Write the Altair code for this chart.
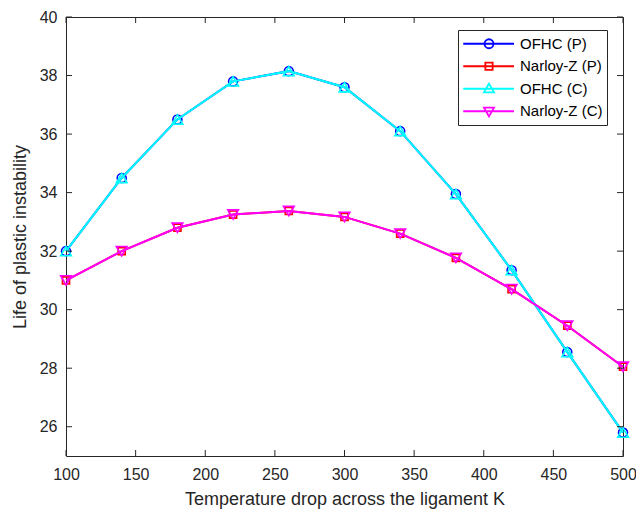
import altair as alt
import pandas as pd

temps = [100, 140, 180, 220, 260, 300, 340, 380, 420, 460, 500]
ofhc_p = [32.0, 34.5, 36.5, 37.8, 38.15, 37.6, 36.1, 33.95, 31.35, 28.55, 25.8]
narloy_p = [31.0, 32.0, 32.8, 33.25, 33.37, 33.17, 32.6, 31.77, 30.7, 29.45, 28.05]
ofhc_c = [32.0, 34.5, 36.5, 37.8, 38.15, 37.6, 36.1, 33.95, 31.35, 28.55, 25.8]
narloy_c = [31.0, 32.0, 32.8, 33.25, 33.37, 33.17, 32.6, 31.77, 30.7, 29.45, 28.05]

series_names = ["OFHC (P)", "Narloy-Z (P)", "OFHC (C)", "Narloy-Z (C)"]
series_values = [ofhc_p, narloy_p, ofhc_c, narloy_c]
colors = ["#0000FF", "#FF0000", "#00FFFF", "#FF00FF"]
plot_shapes = ["circle", "square", "triangle-up", "triangle-down"]
marker_sizes = [80, 50, 115, 115]
legend_shapes = [
    "M-1,0H4.97M2.56,0A0.53,0.53,0,1,1,1.5,0A0.53,0.53,0,1,1,2.56,0",
    "M-1,0H4.97M1.6,-0.43H2.46V0.43H1.6Z",
    "M-1,0H4.97M2.03,-0.6L2.62,0.42L1.44,0.42Z",
    "M-1,0H4.97M2.03,0.6L2.62,-0.42L1.44,-0.42Z",
]
x_ticks = [100, 150, 200, 250, 300, 350, 400, 450, 500]
y_ticks = [26, 28, 30, 32, 34, 36, 38, 40]
x_domain = [100, 500]
y_domain = [25, 40]

rows = []
for name, vals in zip(series_names, series_values):
    for t, v in zip(temps, vals):
        rows.append({"series": name, "temp": t, "life": v})
df = pd.DataFrame(rows)

W, H = 557, 439
TICK = 6
FONT = "Liberation Sans"
AX = "#262626"

xs = alt.Scale(domain=x_domain, nice=False, zero=False)
ys = alt.Scale(domain=y_domain, nice=False, zero=False)

main_x = alt.Axis(values=x_ticks, title="Temperature drop across the ligament K",
                  ticks=False, domain=False, grid=False, labelPadding=10,
                  titlePadding=8, labelFlush=False)
main_y = alt.Axis(values=y_ticks, title="Life of plastic instability",
                  ticks=False, domain=False, grid=False, labelPadding=9,
                  titlePadding=10)

base = alt.Chart(df)
layers = []
for name, col, shp, sz in zip(series_names, colors, plot_shapes, marker_sizes):
    line = base.mark_line(color=col, strokeWidth=2).transform_filter(
        alt.datum.series == name
    ).encode(
        x=alt.X("temp:Q", scale=xs, axis=main_x),
        y=alt.Y("life:Q", scale=ys, axis=main_y),
    )
    pts = base.mark_point(color=col, shape=shp, filled=False, size=sz,
                          strokeWidth=1.6, opacity=1).transform_filter(
        alt.datum.series == name
    ).encode(
        x=alt.X("temp:Q", scale=xs, axis=main_x),
        y=alt.Y("life:Q", scale=ys, axis=main_y),
    )
    layers += [line, pts]

# inward tick marks on all four sides (MATLAB box style)
xt = alt.Chart(pd.DataFrame({"v": x_ticks}))
yt = alt.Chart(pd.DataFrame({"v": y_ticks}))
tick_layers = [
    xt.mark_rule(color=AX, strokeWidth=1).encode(
        x=alt.X("v:Q", scale=xs, axis=main_x), y=alt.value(H), y2=alt.value(H - TICK)),
    xt.mark_rule(color=AX, strokeWidth=1).encode(
        x=alt.X("v:Q", scale=xs, axis=main_x), y=alt.value(0), y2=alt.value(TICK)),
    yt.mark_rule(color=AX, strokeWidth=1).encode(
        y=alt.Y("v:Q", scale=ys, axis=main_y), x=alt.value(0), x2=alt.value(TICK)),
    yt.mark_rule(color=AX, strokeWidth=1).encode(
        y=alt.Y("v:Q", scale=ys, axis=main_y), x=alt.value(W), x2=alt.value(W - TICK)),
]

leg_kw = dict(title=None, orient="none", legendX=392, legendY=13,
              symbolSize=289, labelOffset=38.75, padding=4.25,
              rowPadding=4.5, strokeColor=AX, fillColor="white",
              labelFont=FONT, labelFontSize=15, labelColor="black",
              symbolStrokeWidth=1.8, symbolFillColor="transparent",
              symbolOpacity=1)

legend_layer = base.mark_point(filled=False, strokeWidth=1.8, opacity=1).transform_filter(
    "false"
).encode(
    x=alt.X("temp:Q", scale=xs, axis=main_x),
    y=alt.Y("life:Q", scale=ys, axis=main_y),
    color=alt.Color("series:N", scale=alt.Scale(domain=series_names, range=colors),
                    legend=alt.Legend(**leg_kw)),
    shape=alt.Shape("series:N", scale=alt.Scale(domain=series_names, range=legend_shapes),
                    legend=alt.Legend(**leg_kw)),
)

chart = alt.layer(*layers, *tick_layers, legend_layer).properties(
    width=W, height=H,
    autosize=alt.AutoSizeParams(type="none"),
    padding={"left": 66, "top": 17, "right": 13, "bottom": 54},
    background="white",
).configure_view(stroke=AX, strokeWidth=1).configure_axis(
    labelFont=FONT, labelFontSize=16, labelColor=AX,
    titleFont=FONT, titleFontSize=18, titleFontWeight="normal", titleColor=AX,
)

chart.save("out.html", embed_options={"renderer": "svg", "actions": False})
